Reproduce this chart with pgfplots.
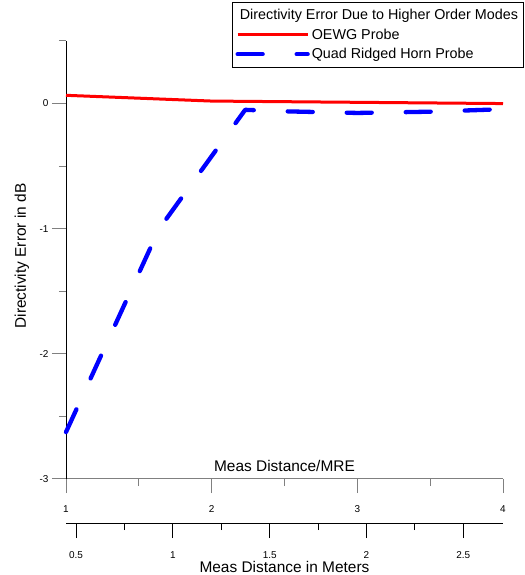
\documentclass[border=0pt]{standalone}
\usepackage{pgfplots}
\pgfplotsset{compat=1.18}
\usepackage{fontspec}
\setmainfont{Liberation Sans}
\definecolor{tickgray}{gray}{0.5}
\begin{document}
\begin{tikzpicture}
\useasboundingbox (0,0) rectangle (525bp,575bp);
\begin{axis}[
  at={(66bp,96bp)}, anchor=south west,
  scale only axis, width=437bp, height=438bp,
  xmin=1, xmax=4, ymin=-3, ymax=0.5,
  axis x line=bottom, axis y line=left,
  axis line style={-},
  x axis line style={tickgray, line width=1bp},
  y axis line style={black, line width=1bp},
  xtick={1,2,3,4}, minor xtick={1.5,2.5,3.5},
  ytick={-3,-2,-1,0}, minor ytick={-2.5,-1.5,-0.5,0.5},
  tick align=outside,
  major tick length=14bp, minor tick length=7bp,
  tick style={tickgray, line width=1bp},
  /pgf/number format/assume math mode=true,
  tick label style={font=\fontsize{10}{12}\selectfont},
  xticklabel style={anchor=base, yshift=-19.5bp},
  yticklabel style={anchor=east},
  xlabel={Meas Distance/MRE},
  xlabel style={at={(axis description cs:0.5,0)}, anchor=base, yshift=7.3bp, font=\fontsize{15.5}{18}\selectfont},
  ylabel={Directivity Error in dB},
  ylabel style={at={(axis description cs:-0.1007,0.509)}, anchor=center, font=\fontsize{15.5}{18}\selectfont},
  clip=false,
  legend cell align=left,
  legend image code/.code={\draw[#1] (0bp,0bp) -- (70bp,0bp);},
  legend style={at={(axis description cs:0.3799,1.089)}, anchor=north west,
    draw=black, line width=1bp, font=\fontsize{14.4}{17}\selectfont,
    row sep=3.5bp, inner ysep=5bp, inner xsep=3bp},
]
\addlegendimage{empty legend}
\addlegendentry{\hspace{-72bp}Directivity Error Due to Higher Order Modes}
\addplot[red, line width=3bp] coordinates {
  (1,0.066) (2,0.02) (3,0.01) (4,0.0)
};
\addlegendentry{OEWG Probe}
\addplot[blue, line width=4.3bp, line cap=round, line join=round, dash pattern=on 25bp off 34bp] coordinates {
  (1,-2.625) (1.64,-1.0) (2.23,-0.05) (2.5,-0.062) (3,-0.075) (3.5,-0.065) (4,-0.045)
};
\addlegendentry{Quad Ridged Horn Probe}
\end{axis}
\begin{axis}[
  at={(66bp,52bp)}, anchor=south west,
  scale only axis, width=437bp, height=10bp,
  xmin=0.448, xmax=2.705, ymin=0, ymax=1,
  axis x line=bottom, axis y line=none,
  axis line style={-, black, line width=1bp},
  xtick={0.5,1,1.5,2,2.5}, minor xtick={0.75,1.25,1.75,2.25},
  tick align=outside,
  major tick length=15bp, minor tick length=7bp,
  tick style={black, line width=1bp},
  /pgf/number format/assume math mode=true,
  tick label style={font=\fontsize{10}{12}\selectfont},
  xticklabel style={anchor=base, yshift=-20bp},
  xlabel={Meas Distance in Meters},
  xlabel style={at={(axis description cs:0.5,0)}, anchor=base, yshift=-49bp, font=\fontsize{15.5}{18}\selectfont},
]
\addplot[draw=none] coordinates {(1,0.5)};
\end{axis}
\end{tikzpicture}
\end{document}
